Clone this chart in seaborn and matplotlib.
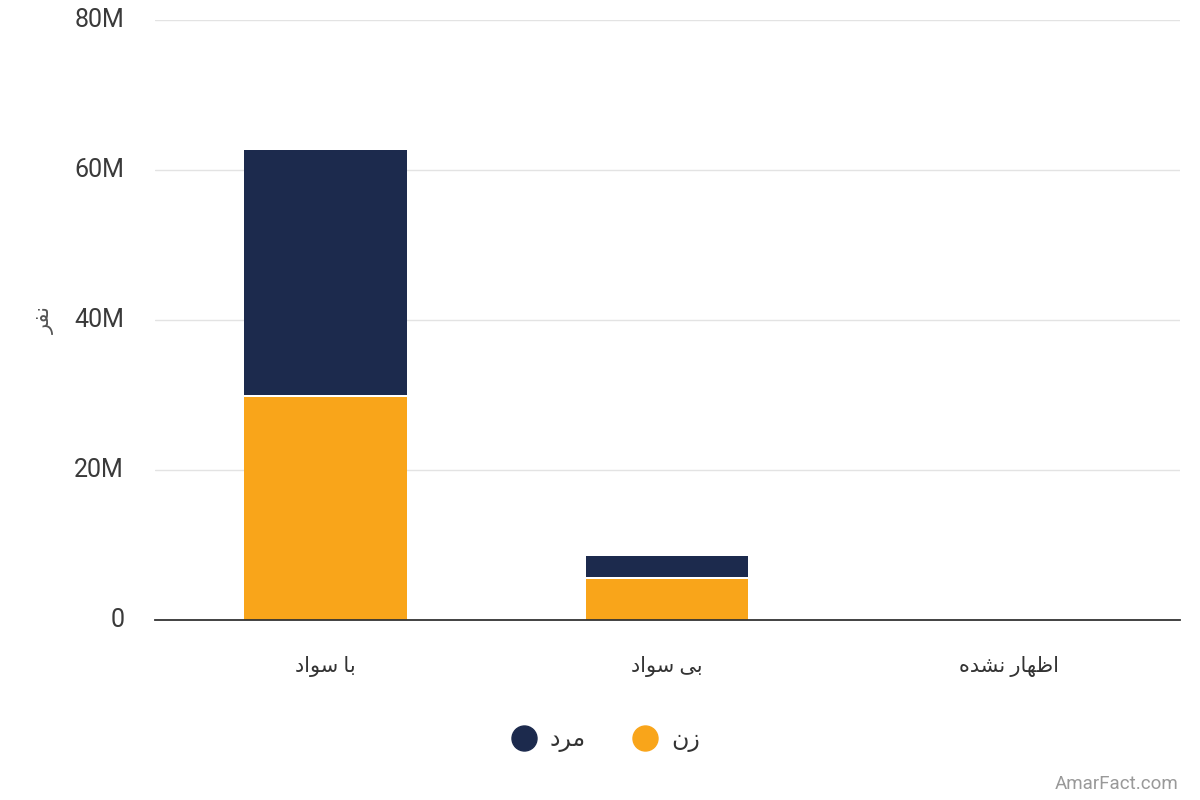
import pandas as pd
import matplotlib.pyplot as plt
import seaborn as sns
from matplotlib.lines import Line2D

# --- Data (in millions of people) ---
categories = ["با سواد", "بی سواد", "اظهار نشده"]
female = [29.7, 5.45, 0.0]   # زن
male = [33.0, 3.1, 0.0]      # مرد
series_names = ["مرد", "زن"]
y_label = "نفر"
y_ticks = [0, 20, 40, 60, 80]
y_tick_labels = ["0", "20M", "40M", "60M", "80M"]

NAVY = "#1c2a4d"
ORANGE = "#f9a51a"
GAP = 0.3  # white seam between the two stacked segments

# matplotlib has no Arabic shaping, so map letters to presentation forms
# (isolated, final, initial, medial) and flip to visual order
FORMS = {
    "ا": "\uFE8D\uFE8E", "د": "\uFEA9\uFEAA", "ر": "\uFEAD\uFEAE",
    "ز": "\uFEAF\uFEB0", "و": "\uFEED\uFEEE",
    "ب": "\uFE8F\uFE90\uFE91\uFE92", "س": "\uFEB1\uFEB2\uFEB3\uFEB4",
    "ش": "\uFEB5\uFEB6\uFEB7\uFEB8", "ظ": "\uFEC5\uFEC6\uFEC7\uFEC8",
    "ف": "\uFED1\uFED2\uFED3\uFED4", "م": "\uFEE1\uFEE2\uFEE3\uFEE4",
    "ن": "\uFEE5\uFEE6\uFEE7\uFEE8", "ه": "\uFEE9\uFEEA\uFEEB\uFEEC",
    "ی": "\uFEEF\uFEF0\uFEF3\uFEF4",
}


def fa(text):
    out = []
    for i, ch in enumerate(text):
        if ch not in FORMS:
            out.append(ch)
            continue
        prev = text[i - 1] if i > 0 else ""
        nxt = text[i + 1] if i + 1 < len(text) else ""
        joins_prev = prev in FORMS and len(FORMS[prev]) == 4
        joins_next = len(FORMS[ch]) == 4 and nxt in FORMS
        if joins_prev and joins_next:
            idx = 3
        elif joins_prev:
            idx = 1
        elif joins_next:
            idx = 2
        else:
            idx = 0
        out.append(FORMS[ch][idx])
    return "".join(out[::-1])


df = pd.DataFrame({
    "category": [fa(c) for c in categories],
    "female": female,
    "male": male,
})
df["total"] = df["female"] + df["male"]

sns.set_theme(style="white")
plt.rcParams["font.family"] = ["Roboto", "DejaVu Sans"]

fig = plt.figure(figsize=(12, 8), dpi=100)
ax = fig.add_axes([0.129, 0.225, 0.854, 0.75])

# stacked bars: female (orange) at the bottom, male (navy) on top
sns.barplot(data=df, x="category", y="female", color=ORANGE, width=0.475,
            saturation=1, ax=ax, linewidth=0)
n = len(ax.patches)
sns.barplot(data=df, x="category", y="total", color=NAVY, width=0.475,
            saturation=1, ax=ax, linewidth=0)
# lift the navy segment so it sits on the orange one with a thin white seam
for patch, f in zip(ax.patches[n:], df["female"]):
    top = patch.get_height()
    if top > 0:
        patch.set_y(f + GAP)
        patch.set_height(top - f - GAP)

ax.set_xlim(-0.5, 2.5)
ax.set_ylim(0, 80)
ax.set_yticks(y_ticks)
ax.set_yticklabels(y_tick_labels, fontsize=18, color="#3a3a3a")
ax.yaxis.grid(True, color="#e3e3e3", linewidth=1)
ax.set_axisbelow(True)
ax.tick_params(axis="y", length=0, pad=22)
ax.tick_params(axis="x", length=0, pad=26, labelsize=15, labelcolor="#333333")
for lbl in ax.get_yticklabels():
    lbl.set_verticalalignment("center")

for side in ["left", "right", "top"]:
    ax.spines[side].set_visible(False)
ax.spines["bottom"].set_color("#333333")
ax.spines["bottom"].set_linewidth(1.3)

ax.set_xlabel("")
ax.set_ylabel(fa(y_label), fontsize=15, color="#555555", labelpad=14)

handles = [
    Line2D([], [], marker="o", linestyle="", markersize=18, color=NAVY),
    Line2D([], [], marker="o", linestyle="", markersize=18, color=ORANGE),
]
fig.legend(handles, [fa(s) for s in series_names], loc="center",
           bbox_to_anchor=(0.505, 0.075), ncol=2, frameon=False,
           fontsize=17, handlelength=1.0, handletextpad=0.6,
           columnspacing=2.0, labelcolor="#333333")

fig.text(0.982, 0.02, "AmarFact.com", ha="right", va="center",
         fontsize=13.5, color="#999999")

fig.savefig("out.png", dpi=100)
